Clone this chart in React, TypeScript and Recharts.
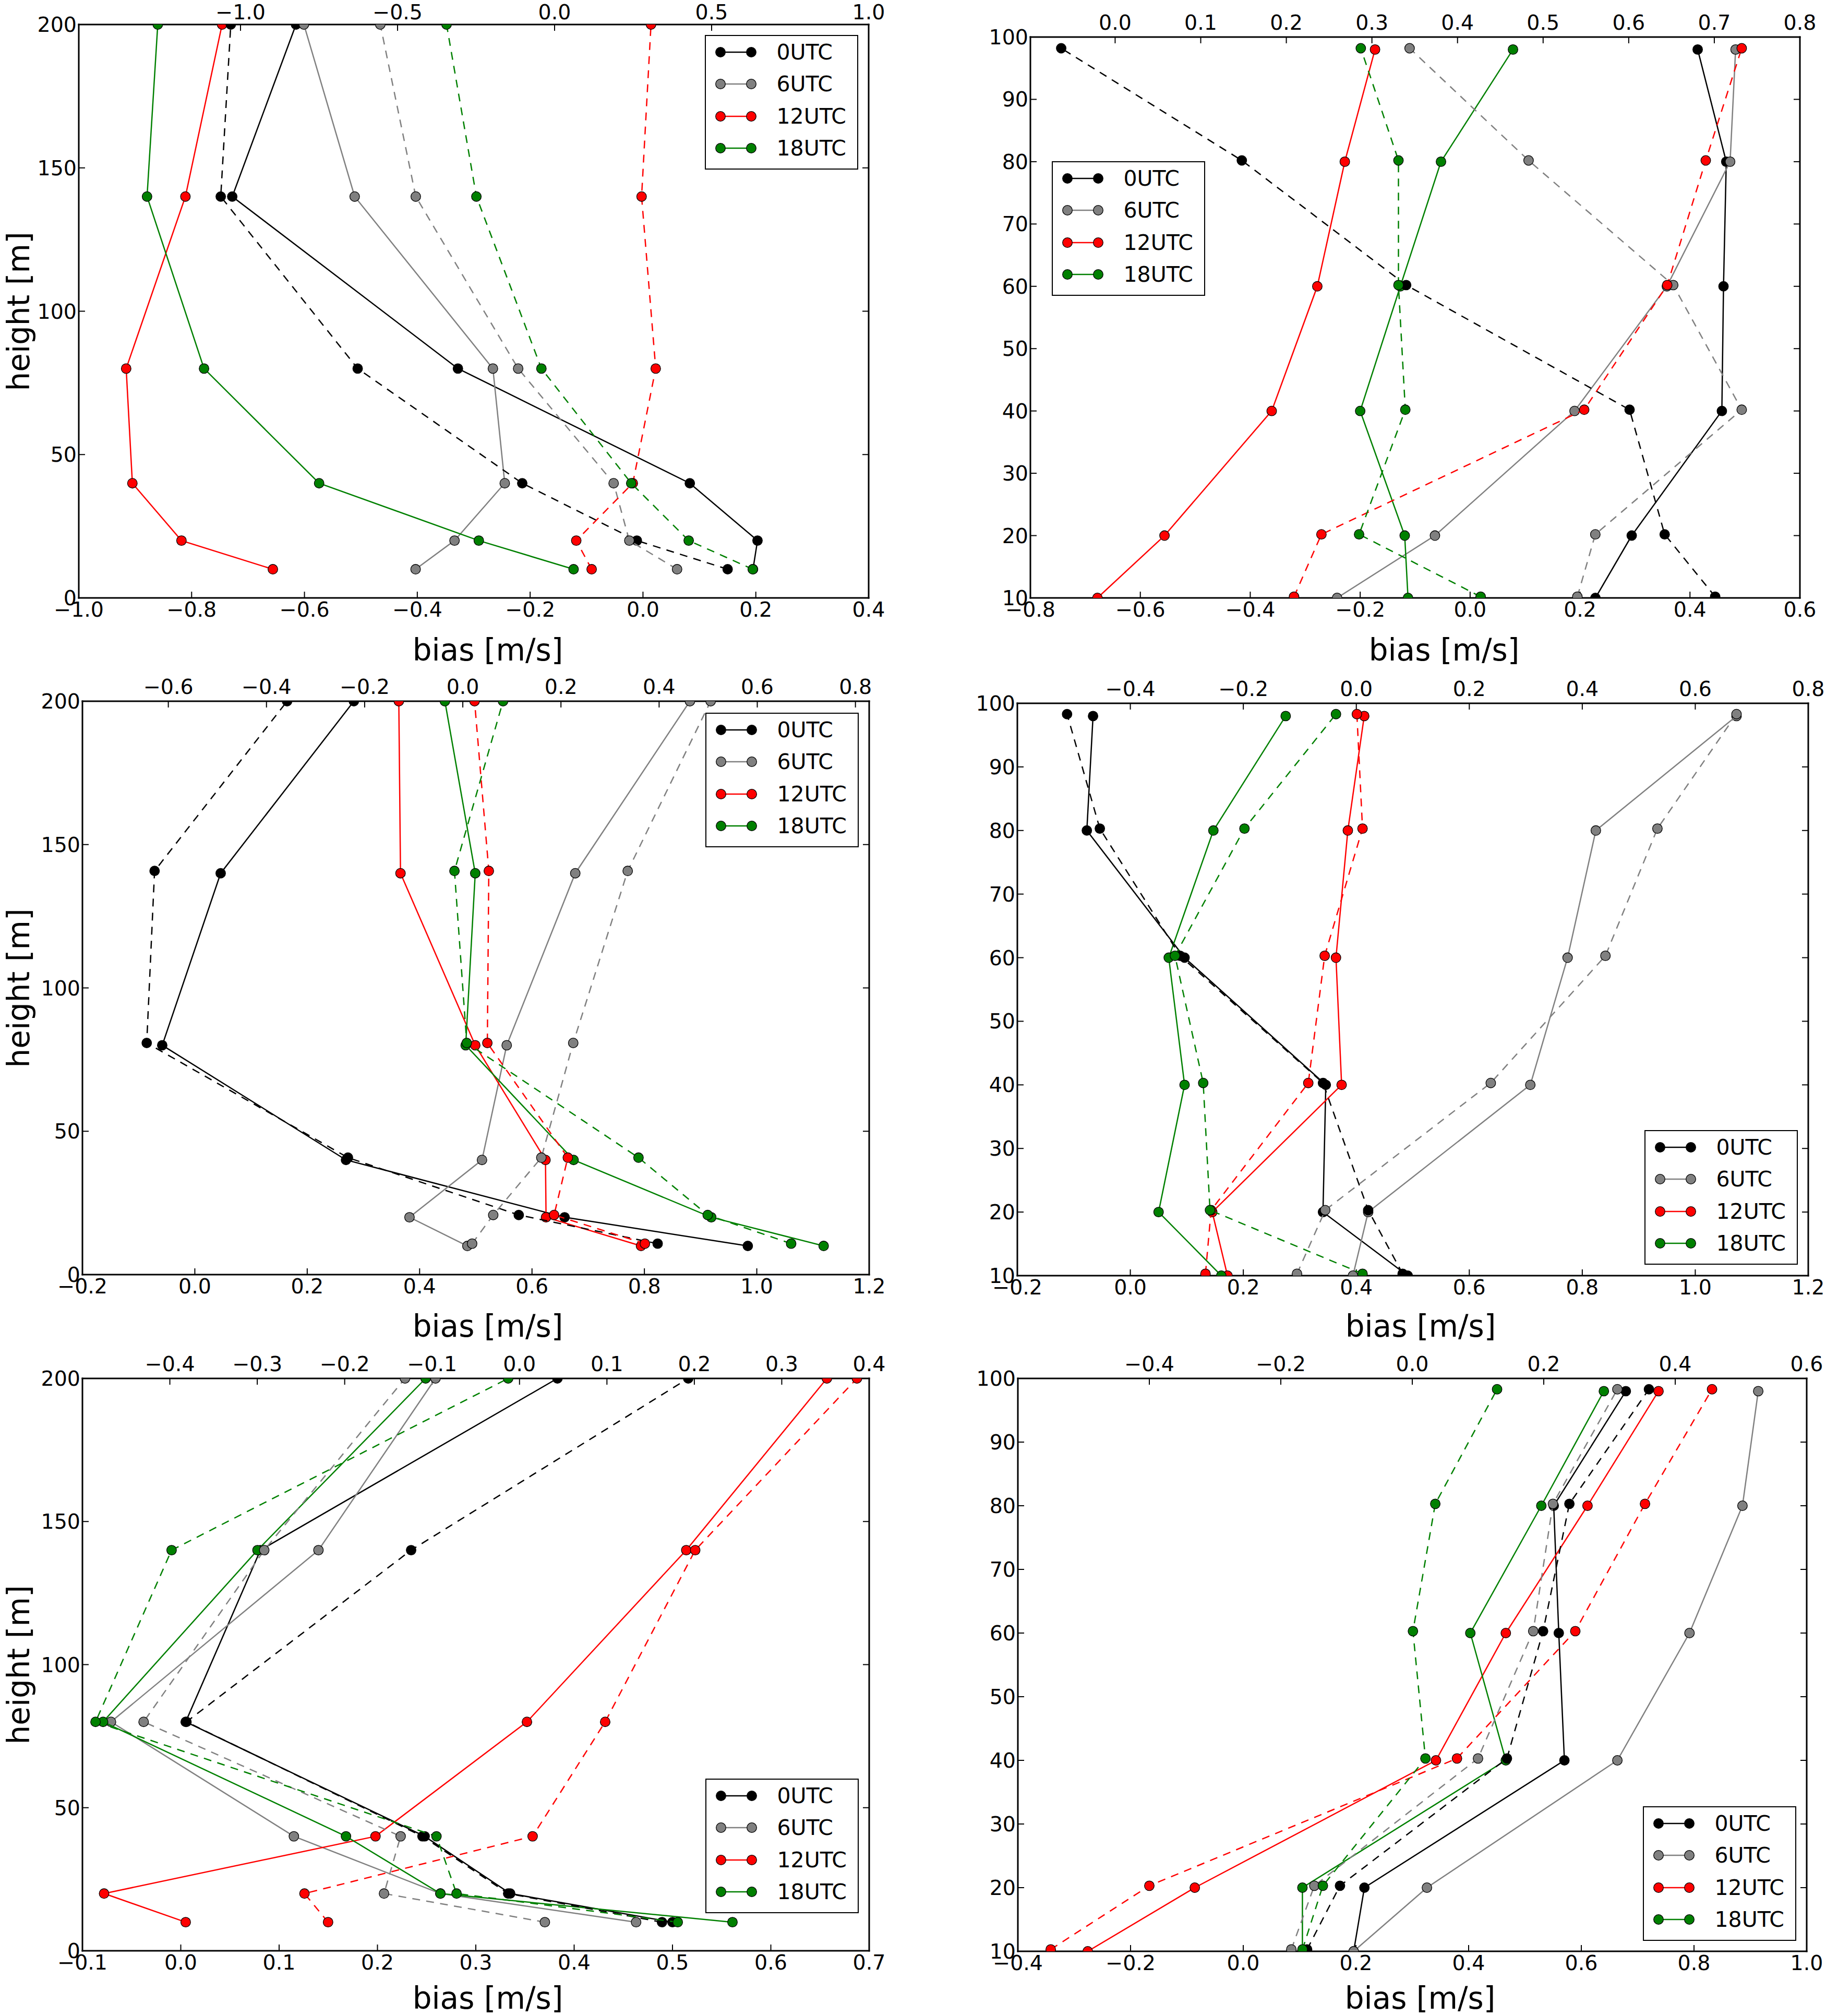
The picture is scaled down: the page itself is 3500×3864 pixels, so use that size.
import { ScatterChart, Scatter, XAxis, YAxis, Legend } from "recharts";

const utcNames = ["0UTC", "6UTC", "12UTC", "18UTC"];
const utcColors = ["#000000", "#808080", "#ff0000", "#008000"];

// every *Solid / *Dashed list holds one row per UTC run, in the order of utcNames
// solid rows go with the bottom axis, dashed rows with the top one

// top left
const p1Heights = [10, 20, 40, 80, 140, 200];
const p1DashHeights = [10, 20, 40, 80, 140, 200];
const p1Solid = [
  [0.195, 0.203, 0.083, -0.328, -0.728, -0.615],
  [-0.403, -0.334, -0.245, -0.266, -0.511, -0.601],
  [-0.656, -0.818, -0.905, -0.916, -0.811, -0.746],
  [-0.123, -0.291, -0.574, -0.778, -0.879, -0.86],
];
const p1Dashed = [
  [0.551, 0.262, -0.103, -0.627, -1.063, -1.031],
  [0.39, 0.238, 0.188, -0.116, -0.442, -0.555],
  [0.118, 0.069, 0.249, 0.322, 0.277, 0.307],
  [0.631, 0.427, 0.244, -0.042, -0.249, -0.344],
];
const p1BottomTicks = [-1.0, -0.8, -0.6, -0.4, -0.2, 0.0, 0.2, 0.4];
const p1TopTicks = [-1.0, -0.5, 0.0, 0.5, 1.0];

// top right
const p2Heights = [10, 20, 40, 60, 80, 98];
const p2DashHeights = [10.2, 20.2, 40.2, 60.2, 80.2, 98.2];
const p2Solid = [
  [0.228, 0.294, 0.458, 0.461, 0.466, 0.414],
  [-0.242, -0.064, 0.19, 0.358, 0.473, 0.483],
  [-0.678, -0.556, -0.361, -0.278, -0.228, -0.173],
  [-0.113, -0.119, -0.2, -0.127, -0.053, 0.078],
];
const p2Dashed = [
  [0.701, 0.642, 0.601, 0.34, 0.148, -0.063],
  [0.54, 0.561, 0.732, 0.652, 0.483, 0.344],
  [0.209, 0.241, 0.548, 0.645, 0.69, 0.732],
  [0.427, 0.285, 0.339, 0.331, 0.331, 0.287],
];
const p2BottomTicks = [-0.8, -0.6, -0.4, -0.2, 0.0, 0.2, 0.4, 0.6];
const p2TopTicks = [0.0, 0.1, 0.2, 0.3, 0.4, 0.5, 0.6, 0.7, 0.8];

// middle left
const p3Heights = [10, 20, 40, 80, 140, 200];
const p3DashHeights = [10.8, 20.8, 40.8, 80.8, 140.8, 200];
const p3Solid = [
  [0.984, 0.658, 0.269, -0.058, 0.046, 0.283],
  [0.485, 0.382, 0.511, 0.555, 0.677, 0.881],
  [0.794, 0.625, 0.624, 0.499, 0.366, 0.363],
  [1.119, 0.919, 0.674, 0.482, 0.499, 0.445],
];
const p3Dashed = [
  [0.397, 0.114, -0.234, -0.644, -0.628, -0.358],
  [0.019, 0.062, 0.16, 0.225, 0.336, 0.505],
  [0.371, 0.186, 0.214, 0.05, 0.053, 0.024],
  [0.669, 0.499, 0.358, 0.008, -0.017, 0.082],
];
const p3BottomTicks = [-0.2, 0.0, 0.2, 0.4, 0.6, 0.8, 1.0, 1.2];
const p3TopTicks = [-0.6, -0.4, -0.2, 0.0, 0.2, 0.4, 0.6, 0.8];

// middle right
const p4Heights = [10, 20, 40, 60, 80, 98];
const p4DashHeights = [10.3, 20.3, 40.3, 60.3, 80.3, 98.3];
const p4Solid = [
  [0.491, 0.341, 0.346, 0.096, -0.077, -0.066],
  [0.394, 0.421, 0.708, 0.774, 0.824, 1.073],
  [0.172, 0.145, 0.374, 0.364, 0.385, 0.414],
  [0.161, 0.05, 0.096, 0.068, 0.147, 0.275],
];
const p4Dashed = [
  [0.082, 0.021, -0.059, -0.312, -0.454, -0.512],
  [-0.105, -0.055, 0.238, 0.441, 0.533, 0.673],
  [-0.267, -0.257, -0.085, -0.056, 0.011, 0.001],
  [0.011, -0.259, -0.271, -0.321, -0.198, -0.036],
];
const p4BottomTicks = [-0.2, 0.0, 0.2, 0.4, 0.6, 0.8, 1.0, 1.2];
const p4TopTicks = [-0.4, -0.2, 0.0, 0.2, 0.4, 0.6, 0.8];

// bottom left
const p5Heights = [10, 20, 40, 80, 140, 200];
const p5DashHeights = [10, 20, 40, 80, 140, 200];
const p5Solid = [
  [0.5, 0.335, 0.248, 0.005, 0.081, 0.383],
  [0.463, 0.264, 0.115, -0.071, 0.14, 0.259],
  [0.005, -0.078, 0.198, 0.352, 0.514, 0.657],
  [0.561, 0.264, 0.168, -0.079, 0.078, 0.249],
];
const p5Dashed = [
  [0.163, -0.013, -0.111, -0.381, -0.124, 0.193],
  [0.029, -0.155, -0.136, -0.43, -0.292, -0.131],
  [-0.219, -0.246, 0.015, 0.098, 0.201, 0.386],
  [0.181, -0.072, -0.095, -0.485, -0.398, -0.013],
];
const p5BottomTicks = [-0.1, 0.0, 0.1, 0.2, 0.3, 0.4, 0.5, 0.6, 0.7];
const p5TopTicks = [-0.4, -0.3, -0.2, -0.1, 0.0, 0.1, 0.2, 0.3, 0.4];

// bottom right
const p6Heights = [10, 20, 40, 60, 80, 98];
const p6DashHeights = [10.3, 20.3, 40.3, 60.3, 80.3, 98.3];
const p6Solid = [
  [0.196, 0.215, 0.57, 0.56, 0.551, 0.679],
  [0.196, 0.326, 0.664, 0.792, 0.886, 0.914],
  [-0.276, -0.086, 0.342, 0.466, 0.611, 0.737],
  [0.105, 0.105, 0.466, 0.403, 0.529, 0.64],
];
const p6Dashed = [
  [-0.16, -0.11, 0.144, 0.199, 0.239, 0.36],
  [-0.184, -0.149, 0.1, 0.184, 0.214, 0.312],
  [-0.55, -0.4, 0.068, 0.248, 0.354, 0.456],
  [-0.167, -0.136, 0.02, 0.001, 0.035, 0.129],
];
const p6BottomTicks = [-0.4, -0.2, 0.0, 0.2, 0.4, 0.6, 0.8, 1.0];
const p6TopTicks = [-0.4, -0.2, 0.0, 0.2, 0.4, 0.6];

const yTicks200 = [0, 50, 100, 150, 200];
const yTicks100 = [10, 20, 30, 40, 50, 60, 70, 80, 90, 100];

const FONT = "'DejaVu Sans', sans-serif";
const DOT_R = 9.3;
const LINE_W = 2.5;
const DASH = "15 12";

// plot boxes (page pixels): left, top, right, bottom
const panels = [
  {
    box: [151, 47, 1665, 1146], legend: [1351, 67], xLabel: [935, 1246], yLabel: true, topGap: 22,
    heights: p1Heights, dashHeights: p1DashHeights, solid: p1Solid, dashed: p1Dashed,
    bottomDomain: [-1.0, 0.4], topDomain: [-1.515, 1.0], yDomain: [0, 200],
    bottomTicks: p1BottomTicks, topTicks: p1TopTicks, yTicks: yTicks200,
  },
  {
    box: [1975, 71, 3450, 1146], legend: [2016, 309], xLabel: [2768, 1246], yLabel: false, topGap: 26,
    heights: p2Heights, dashHeights: p2DashHeights, solid: p2Solid, dashed: p2Dashed,
    bottomDomain: [-0.8, 0.6], topDomain: [-0.099, 0.8], yDomain: [10, 100],
    bottomTicks: p2BottomTicks, topTicks: p2TopTicks, yTicks: yTicks100,
  },
  {
    box: [158, 1344, 1666, 2443], legend: [1352, 1366], xLabel: [935, 2542], yLabel: true, topGap: 26,
    heights: p3Heights, dashHeights: p3DashHeights, solid: p3Solid, dashed: p3Dashed,
    bottomDomain: [-0.2, 1.2], topDomain: [-0.775, 0.828], yDomain: [0, 200],
    bottomTicks: p3BottomTicks, topTicks: p3TopTicks, yTicks: yTicks200,
  },
  {
    box: [1950, 1348, 3466, 2445], legend: [3152, 2166], xLabel: [2723, 2542], yLabel: false, topGap: 26,
    heights: p4Heights, dashHeights: p4DashHeights, solid: p4Solid, dashed: p4Dashed,
    bottomDomain: [-0.2, 1.2], topDomain: [-0.6, 0.8], yDomain: [10, 100],
    bottomTicks: p4BottomTicks, topTicks: p4TopTicks, yTicks: yTicks100,
  },
  {
    box: [158, 2642, 1666, 3739], legend: [1352, 3409], xLabel: [935, 3830], yLabel: true, topGap: 26,
    heights: p5Heights, dashHeights: p5DashHeights, solid: p5Solid, dashed: p5Dashed,
    bottomDomain: [-0.1, 0.7], topDomain: [-0.5, 0.4], yDomain: [0, 200],
    bottomTicks: p5BottomTicks, topTicks: p5TopTicks, yTicks: yTicks200,
  },
  {
    box: [1951, 2642, 3463, 3740], legend: [3149, 3462], xLabel: [2722, 3830], yLabel: false, topGap: 26,
    heights: p6Heights, dashHeights: p6DashHeights, solid: p6Solid, dashed: p6Dashed,
    bottomDomain: [-0.4, 1.0], topDomain: [-0.6, 0.6], yDomain: [10, 100],
    bottomTicks: p6BottomTicks, topTicks: p6TopTicks, yTicks: yTicks100,
  },
];

const fmtX = (v: number) => v.toFixed(1).replace("-", "\u2212");
const fmtY = (v: number) => String(v);
const noLabel = () => "";

const tickText = { fill: "#000", fontSize: 39.5, fontFamily: FONT };
const frame = { stroke: "#000", strokeWidth: 3, strokeLinecap: "square" as const };
const tickMark = { stroke: "#000", strokeWidth: 2 };

const dot = (color: string) => (props: any) =>
  <circle cx={props.cx} cy={props.cy} r={DOT_R} fill={color} stroke="#000" strokeWidth={1.3} />;

function toPoints(xs: number[], hs: number[]) {
  return xs.map((x, i) => ({ x, y: hs[i] }));
}

function LegendBox() {
  return (
    <div style={{
      width: 294, height: 258, boxSizing: "border-box", border: "2.5px solid #000",
      background: "#fff", position: "relative", fontFamily: FONT, fontSize: 41,
    }}>
      {utcNames.map((name, i) => (
        <div key={name} style={{ position: "absolute", left: -2.5, top: 31 + i * 61.4 - 30, height: 60, width: 290 }}>
          <svg width={120} height={60} style={{ position: "absolute", left: 0, top: 0 }}>
            <line x1={30} x2={89} y1={30} y2={30} stroke={utcColors[i]} strokeWidth={LINE_W} />
            <circle cx={30} cy={30} r={DOT_R} fill={utcColors[i]} stroke="#000" strokeWidth={1.3} />
            <circle cx={89} cy={30} r={DOT_R} fill={utcColors[i]} stroke="#000" strokeWidth={1.3} />
          </svg>
          <span style={{ position: "absolute", left: 138, top: 0, lineHeight: "60px", whiteSpace: "nowrap" }}>
            {name}
          </span>
        </div>
      ))}
    </div>
  );
}

const WL = 150, WR = 70, HT = 60, HB = 70;

function Panel({ p }: { p: any }) {
  const [L, T, R, B] = p.box;
  const width = R - L + WL + WR;
  const height = B - T + HT + HB;
  const left = L - WL;
  const top = T - HT;
  return (
    <div style={{ position: "absolute", left, top, width, height }}>
      <ScatterChart width={width} height={height} margin={{ top: 0, right: 0, bottom: 0, left: 0 }}>
        <XAxis
          xAxisId="bottom" type="number" dataKey="x" orientation="bottom" height={HB}
          domain={p.bottomDomain} ticks={p.bottomTicks} allowDataOverflow interval={0}
          tickFormatter={fmtX} tick={tickText} tickSize={-12} tickMargin={20}
          axisLine={frame} tickLine={tickMark}
        />
        <XAxis
          xAxisId="top" type="number" dataKey="x" orientation="top" height={HT}
          domain={p.topDomain} ticks={p.topTicks} allowDataOverflow interval={0}
          tickFormatter={fmtX} tick={tickText} tickSize={-12} tickMargin={p.topGap}
          axisLine={frame} tickLine={tickMark}
        />
        <YAxis
          yAxisId="left" type="number" dataKey="y" orientation="left" width={WL}
          domain={p.yDomain} ticks={p.yTicks} allowDataOverflow interval={0}
          tickFormatter={fmtY} tick={tickText} tickSize={-12} tickMargin={16}
          axisLine={frame} tickLine={tickMark}
        />
        <YAxis
          yAxisId="right" type="number" dataKey="y" orientation="right" width={WR}
          domain={p.yDomain} ticks={p.yTicks} allowDataOverflow interval={0}
          tickFormatter={noLabel} tick={tickText} tickSize={-12} tickMargin={0}
          axisLine={frame} tickLine={tickMark}
        />
        {p.solid.map((xs: number[], i: number) => (
          <Scatter
            key={"s" + i} name={utcNames[i]} xAxisId="bottom" yAxisId="left"
            data={toPoints(xs, p.heights)} fill={utcColors[i]}
            line={{ stroke: utcColors[i], strokeWidth: LINE_W }}
            shape={dot(utcColors[i])} isAnimationActive={false}
          />
        ))}
        {p.dashed.map((xs: number[], i: number) => (
          <Scatter
            key={"d" + i} name={utcNames[i] + " top"} xAxisId="top" yAxisId="left"
            data={toPoints(xs, p.dashHeights)} fill={utcColors[i]}
            line={{ stroke: utcColors[i], strokeWidth: LINE_W, strokeDasharray: DASH }}
            shape={dot(utcColors[i])} isAnimationActive={false}
          />
        ))}
        <Legend
          layout="horizontal" align="center" verticalAlign="middle"
          content={() => <LegendBox />}
          wrapperStyle={{ left: p.legend[0] - left, top: p.legend[1] - top, width: 294, height: 258 }}
        />
      </ScatterChart>
    </div>
  );
}

const titleStyle = {
  position: "absolute" as const, fontFamily: FONT, fontSize: 58, lineHeight: 1,
  whiteSpace: "nowrap" as const, color: "#000",
};

export default function App() {
  return (
    <div style={{ position: "absolute", left: 0, top: 0, width: 3500, height: 3864, background: "#fff", overflow: "hidden" }}>
      {panels.map((p, k) => (
        <Panel key={k} p={p} />
      ))}
      {panels.map((p, k) => (
        <div key={"xl" + k} style={{ ...titleStyle, left: p.xLabel[0], top: p.xLabel[1], transform: "translate(-50%, -50%)" }}>
          bias [m/s]
        </div>
      ))}
      {panels.filter((p) => p.yLabel).map((p, k) => (
        <div key={"yl" + k} style={{
          ...titleStyle, left: 36, top: (p.box[1] + p.box[3]) / 2,
          transform: "translate(-50%, -50%) rotate(-90deg)",
        }}>
          height [m]
        </div>
      ))}
    </div>
  );
}
